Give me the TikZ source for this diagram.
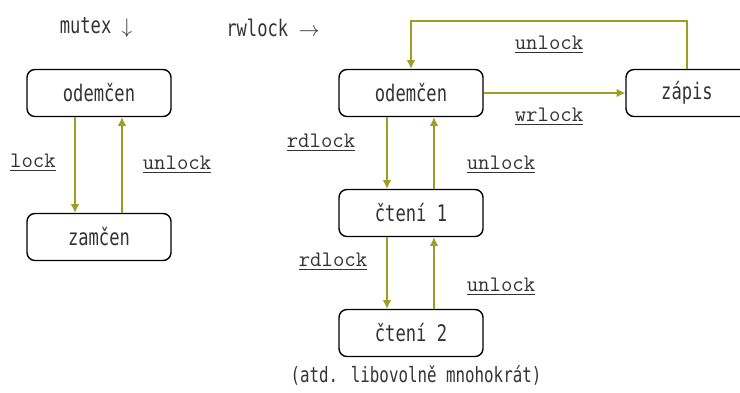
\documentclass[tikz,border=0pt]{standalone}
\usepackage{fontspec}
\usetikzlibrary{arrows.meta}
\newfontfamily\statefont[FakeStretch=0.75]{DejaVu Sans Mono}
\definecolor{edgecol}{RGB}{158,158,38}
\definecolor{txtcol}{RGB}{51,51,51}
\newcommand{\op}[1]{\underline{\texttt{#1}}}

\begin{document}
\begin{tikzpicture}[
    state/.style={rectangle, draw, line width=0.8pt, rounded corners=4.5pt,
      minimum width=2.88cm, minimum height=0.94cm, text=txtcol,
      font=\statefont\fontsize{13}{15}\selectfont},
    trans/.style={draw=edgecol, line width=0.8pt,
      -{Latex[length=5pt,width=5pt]}},
    oplabel/.style={text=txtcol, font=\fontsize{12.6}{15}\selectfont}
    ]
    \useasboundingbox (0,0) rectangle (14.8,7.84);

    \node[text=txtcol, font=\statefont\fontsize{13}{15}\selectfont] (mx) at (1.92,7.28) {mutex $\downarrow$};
    \node[text=txtcol, font=\statefont\fontsize{13}{15}\selectfont] (rw) at (5.46,7.28) {rwlock $\rightarrow$};

    % mutex
    \node[state] (mo) at (1.98,5.98) {odemčen};
    \node[state] (mz) at (1.98,3.10) {zamčen};
    \draw[trans] ([xshift=-0.48cm]mo.south) -- ([xshift=-0.48cm]mz.north);
    \draw[trans] ([xshift=0.46cm]mz.north) -- ([xshift=0.46cm]mo.south);
    \node[oplabel] (ml) at (0.66,4.58) {\op{lock}};
    \node[oplabel] (mu) at (3.54,4.54) {\op{unlock}};

    % rwlock
    \node[state] (ro) at (8.22,5.98) {odemčen};
    \node[state, minimum width=2.44cm] (rz) at (13.74,5.98) {zápis};
    \node[state] (r1) at (8.22,3.58) {čtení 1};
    \node[state] (r2) at (8.22,1.18) {čtení 2};
    \coordinate (top) at (13.74,7.42);
    \draw[trans] (rz.north) |- (top) -| (ro.north);
    \draw[trans] (ro.east) -- (rz.west);
    \draw[trans] ([xshift=-0.48cm]ro.south) -- ([xshift=-0.48cm]r1.north);
    \draw[trans] ([xshift=0.46cm]r1.north) -- ([xshift=0.46cm]ro.south);
    \draw[trans] ([xshift=-0.48cm]r1.south) -- ([xshift=-0.48cm]r2.north);
    \draw[trans] ([xshift=0.46cm]r2.north) -- ([xshift=0.46cm]r1.south);
    \node[oplabel] (tu) at (10.98,6.94) {\op{unlock}};
    \node[oplabel] (tw) at (10.98,5.50) {\op{wrlock}};
    \node[oplabel] (r1d) at (6.42,4.98) {\op{rdlock}};
    \node[oplabel] (r1u) at (10.02,4.54) {\op{unlock}};
    \node[oplabel] (r2d) at (6.66,2.60) {\op{rdlock}};
    \node[oplabel] (r2u) at (10.02,2.10) {\op{unlock}};

    \node[text=txtcol, font=\statefont\fontsize{12}{14}\selectfont] (etc) at (8.32,0.34) {(atd. libovolně mnohokrát)};
\end{tikzpicture}
\end{document}
